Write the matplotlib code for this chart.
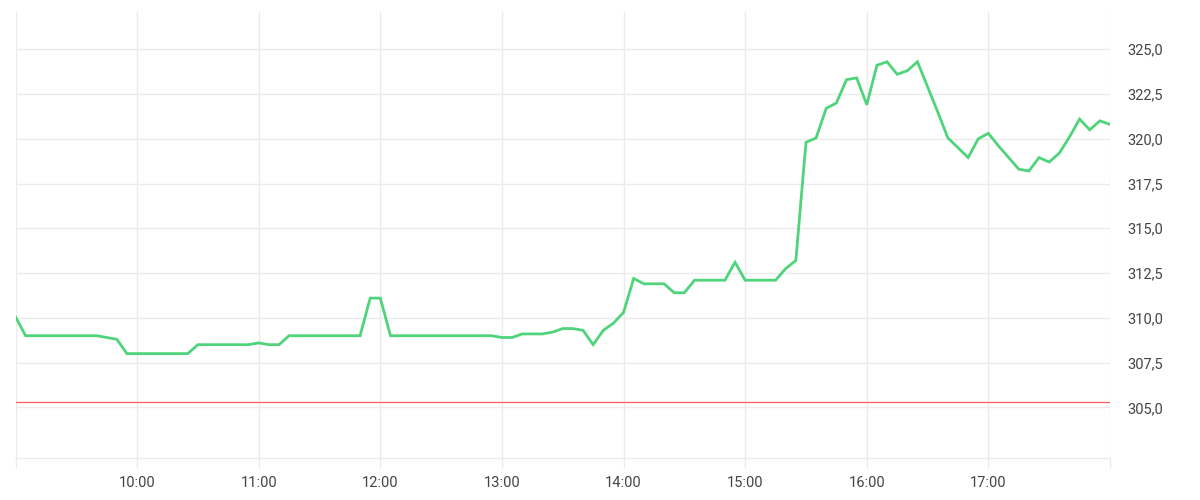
import numpy as np
import matplotlib
matplotlib.use("Agg")
import matplotlib.pyplot as plt
from matplotlib.ticker import FuncFormatter

# price every 5 minutes, 09:00 -> 18:00
PRICES = [
    310.05, 309.0, 309.0, 309.0, 309.0, 309.0, 309.0, 309.0, 309.0, 308.9,
    308.8, 308.0, 308.0, 308.0, 308.0, 308.0, 308.0, 308.0, 308.5, 308.5,
    308.5, 308.5, 308.5, 308.5, 308.6, 308.5, 308.5, 309.0, 309.0, 309.0,
    309.0, 309.0, 309.0, 309.0, 309.0, 311.1, 311.1, 309.0, 309.0, 309.0,
    309.0, 309.0, 309.0, 309.0, 309.0, 309.0, 309.0, 309.0, 308.9, 308.9,
    309.1, 309.1, 309.1, 309.2, 309.4, 309.4, 309.3, 308.5, 309.3, 309.7,
    310.3, 312.2, 311.9, 311.9, 311.9, 311.4, 311.4, 312.1, 312.1, 312.1,
    312.1, 313.1, 312.1, 312.1, 312.1, 312.1, 312.75, 313.2, 319.8, 320.05,
    321.7, 322.0, 323.3, 323.4, 321.9, 324.1, 324.3, 323.6, 323.8, 324.3,
    322.9, 321.5, 320.05, 319.5, 318.95, 320.0, 320.3, 319.6, 318.95, 318.3,
    318.2, 318.95, 318.7, 319.2, 320.1, 321.1, 320.5, 321.0, 320.8,
]
START_HOUR = 9
STEP_MIN = 5
REF_LEVEL = 305.3
Y_TICKS = [305.0, 307.5, 310.0, 312.5, 315.0, 317.5, 320.0, 322.5, 325.0]
HOUR_TICKS = list(range(9, 19))
LABELED_HOURS = list(range(10, 18))

hours = START_HOUR + np.arange(len(PRICES)) * STEP_MIN / 60.0

GRID = "#ebebeb"
TXT = "#444444"

fig = plt.figure(figsize=(12, 5), dpi=100, facecolor="white")
ax = fig.add_axes([15.5 / 1200, 42 / 500, (1110 - 15.5) / 1200, 446 / 500])

ax.plot(hours, PRICES, color="#4fd47c", lw=2.0, solid_joinstyle="miter", zorder=3)
ax.axhline(REF_LEVEL, color="#ff5c5c", lw=0.9, zorder=2)

ax.set_xlim(9, 18)
ax.set_ylim(302.17, 327.08)

ax.set_xticks(HOUR_TICKS)
ax.xaxis.set_major_formatter(FuncFormatter(
    lambda v, p: f"{int(round(v)):02d}:00" if int(round(v)) in LABELED_HOURS else ""))
ax.set_yticks(Y_TICKS)
ax.yaxis.set_major_formatter(FuncFormatter(lambda v, p: f"{v:.1f}".replace(".", ",")))
ax.yaxis.tick_right()

ax.grid(True, color=GRID, lw=1.0)
ax.set_axisbelow(True)
for s in ("top", "left", "right"):
    ax.spines[s].set_visible(False)
ax.spines["bottom"].set_color(GRID)
ax.spines["bottom"].set_linewidth(1.0)

ax.tick_params(axis="x", length=7.2, width=1.0, color=GRID, labelcolor=TXT,
               labelsize=10.5, pad=5.5)
ax.tick_params(axis="y", length=0, labelcolor=TXT, labelsize=10.5, pad=12.5)
for lab in ax.get_xticklabels() + ax.get_yticklabels():
    lab.set_fontfamily("Roboto")

fig.savefig("out.png", dpi=100, facecolor="white")
